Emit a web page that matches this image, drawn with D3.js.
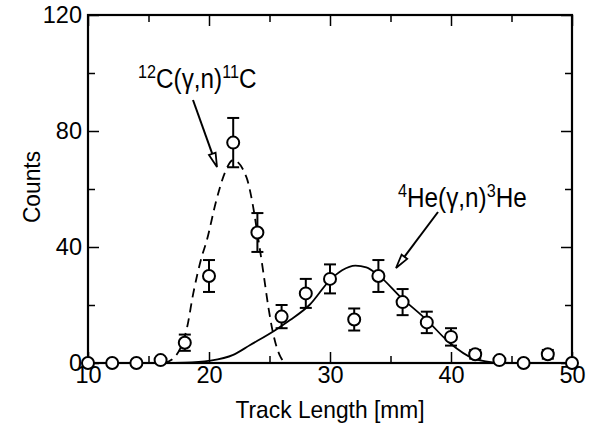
<!DOCTYPE html>
<html>
<head>
<meta charset="utf-8">
<script src="https://cdn.jsdelivr.net/npm/d3@7"></script>
<style>
  body { margin: 0; background: #fff; }
  svg { font-family: Arial, "Liberation Sans", sans-serif; }
</style>
</head>
<body>
<svg id="chart" width="593" height="429"></svg>
<script>
// measured points
const trackLength = [10, 12, 14, 16, 18, 20, 22, 24, 26, 28, 30, 32, 34, 36, 38, 40, 42, 44, 46, 48, 50];
const counts      = [0, 0, 0, 1, 7, 30, 76, 45, 16, 24, 29, 15, 30, 21, 14, 9, 3, 1, 0, 3, 0];
const countErr    = [0, 0, 0, 0, 2.8, 5.5, 8.5, 6.7, 4, 5, 5, 3.8, 5.5, 4.5, 3.7, 3, 1.5, 0, 0, 1.5, 0];

// 12C(g,n)11C fit (dashed)
const carbonX = [16.3, 17.2, 18.2, 18.7, 19.4, 19.8, 20.6, 21.3, 22.0, 23.1, 23.6, 24.0, 24.5, 24.9, 25.3, 25.9, 26.4, 28];
const carbonY = [0, 2.2, 12.5, 24, 36.6, 42, 56, 65.5, 70, 64, 55, 44.7, 31, 19.4, 10.2, 2.2, 0, 0];

// 4He(g,n)3He fit (solid)
const heliumX = [16, 18, 20.1, 22, 23.4, 25.5, 26.7, 28.3, 30, 31, 32.1, 33, 34, 35.8, 38, 39.9, 41.8, 44, 46];
const heliumY = [0, 0.1, 0.8, 2.8, 6.2, 11.4, 14.8, 20, 28.6, 32, 33.6, 33, 30.3, 22.9, 14.8, 6.9, 1.7, 0.1, 0];

const xTicks = [10, 20, 30, 40, 50];
const yTicks = [0, 40, 80, 120];

const margin = {top: 15, right: 21, bottom: 66, left: 88};
const W = 593, H = 429;
const width = W - margin.left - margin.right;
const height = H - margin.top - margin.bottom;

const svg = d3.select("#chart");
const g = svg.append("g").attr("transform", `translate(${margin.left},${margin.top})`);

const x = d3.scaleLinear().domain([10, 50]).range([0, width]);
const y = d3.scaleLinear().domain([0, 120]).range([height, 0]);

const minorX = d3.range(15, 50, 10);
const minorY = d3.range(20, 120, 40);

// bottom
const bx = g.append("g").attr("transform", `translate(0,${height})`);
bx.call(d3.axisBottom(x).tickValues(xTicks).tickSize(-11).tickPadding(4).tickFormat(d3.format("d")));
bx.select(".domain").remove();
bx.selectAll(".tick text").attr("font-size", 23.5).attr("fill", "#000").attr("dy", "0.66em");
bx.append("g").call(d3.axisBottom(x).tickValues(minorX).tickSize(-7).tickFormat(""))
  .call(s => s.select(".domain").remove());
// top
const tx = g.append("g");
tx.call(d3.axisTop(x).tickValues(xTicks).tickSize(-11).tickFormat(""));
tx.append("g").call(d3.axisTop(x).tickValues(minorX).tickSize(-7).tickFormat(""));
tx.selectAll(".domain").remove();
// left
const ly = g.append("g");
ly.call(d3.axisLeft(y).tickValues(yTicks).tickSize(-11).tickPadding(6));
ly.select(".domain").remove();
ly.selectAll(".tick text").attr("font-size", 23.5).attr("fill", "#000");
ly.append("g").call(d3.axisLeft(y).tickValues(minorY).tickSize(-7).tickFormat(""))
  .call(s => s.select(".domain").remove());
// right
const ry = g.append("g").attr("transform", `translate(${width},0)`);
ry.call(d3.axisRight(y).tickValues(yTicks).tickSize(-11).tickFormat(""));
ry.append("g").call(d3.axisRight(y).tickValues(minorY).tickSize(-7).tickFormat(""));
ry.selectAll(".domain").remove();

g.selectAll(".tick line").attr("stroke", "#000").attr("stroke-width", 1.5);

g.append("rect")
  .attr("width", width).attr("height", height)
  .attr("fill", "none").attr("stroke", "#000").attr("stroke-width", 2.2);

// fit curves
const line = d3.line().x(d => x(d[0])).y(d => y(d[1])).curve(d3.curveMonotoneX);
g.append("path")
  .datum(carbonX.map((v, i) => [v, carbonY[i]]))
  .attr("d", line).attr("fill", "none").attr("stroke", "#000")
  .attr("stroke-width", 1.8).attr("stroke-dasharray", "9,6");
g.append("path")
  .datum(heliumX.map((v, i) => [v, heliumY[i]]))
  .attr("d", line).attr("fill", "none").attr("stroke", "#000")
  .attr("stroke-width", 1.8);

// data with error bars
const pts = trackLength.map((v, i) => ({x: v, y: counts[i], e: countErr[i]}));
const pg = g.append("g").selectAll("g").data(pts).join("g")
  .attr("transform", d => `translate(${x(d.x)},0)`);
const cap = 6;
pg.filter(d => d.e > 0).each(function(d) {
  const s = d3.select(this);
  const top = y(d.y + d.e), bot = y(d.y - d.e);
  s.append("line").attr("y1", top).attr("y2", bot);
  s.append("line").attr("x1", -cap).attr("x2", cap).attr("y1", top).attr("y2", top);
  s.append("line").attr("x1", -cap).attr("x2", cap).attr("y1", bot).attr("y2", bot);
  s.selectAll("line").attr("stroke", "#000").attr("stroke-width", 2);
});
pg.append("circle")
  .attr("cy", d => y(d.y)).attr("r", 6)
  .attr("fill", "#fff").attr("stroke", "#000").attr("stroke-width", 2);

// labels + arrows
function arrow(x1, y1, x2, y2) {
  const ang = Math.atan2(y2 - y1, x2 - x1);
  const len = 14, half = 3.5;
  const bx0 = x2 - len * Math.cos(ang), by0 = y2 - len * Math.sin(ang);
  const px = -Math.sin(ang) * half, py = Math.cos(ang) * half;
  svg.append("line").attr("x1", x1).attr("y1", y1).attr("x2", bx0).attr("y2", by0)
    .attr("stroke", "#000").attr("stroke-width", 2);
  svg.append("path")
    .attr("d", `M${x2},${y2}L${bx0 + px},${by0 + py}L${bx0 - px},${by0 - py}Z`)
    .attr("fill", "#fff").attr("stroke", "#000").attr("stroke-width", 1.8);
}

// the original lettering is a bit narrow, so squeeze it horizontally
function isotopeLabel(xp, yp, parts) {
  const t = svg.append("g").attr("transform", `translate(${xp},${yp}) scale(0.9,1)`)
    .append("text").attr("font-size", 27).attr("fill", "#000");
  parts.forEach(p => {
    t.append("tspan").attr("font-size", 18).attr("dy", -10).text(p.sup);
    t.append("tspan").attr("dy", 10).text(p.txt);
  });
}
isotopeLabel(138, 88, [{sup: "12", txt: "C(γ,n)"}, {sup: "11", txt: "C"}]);
isotopeLabel(398, 207, [{sup: "4", txt: "He(γ,n)"}, {sup: "3", txt: "He"}]);
arrow(193, 100, 217, 167);
arrow(438, 212, 396, 268);

// axis titles
svg.append("g").attr("transform", `translate(${margin.left + width / 2},418) scale(0.95,1)`)
  .append("text")
  .attr("text-anchor", "middle").attr("font-size", 24).attr("fill", "#000")
  .text("Track Length [mm]");
svg.append("g").attr("transform", `translate(40,${margin.top + height / 2 - 2}) rotate(-90) scale(0.95,1)`)
  .append("text")
  .attr("text-anchor", "middle").attr("font-size", 24).attr("fill", "#000")
  .text("Counts");
</script>
</body>
</html>
